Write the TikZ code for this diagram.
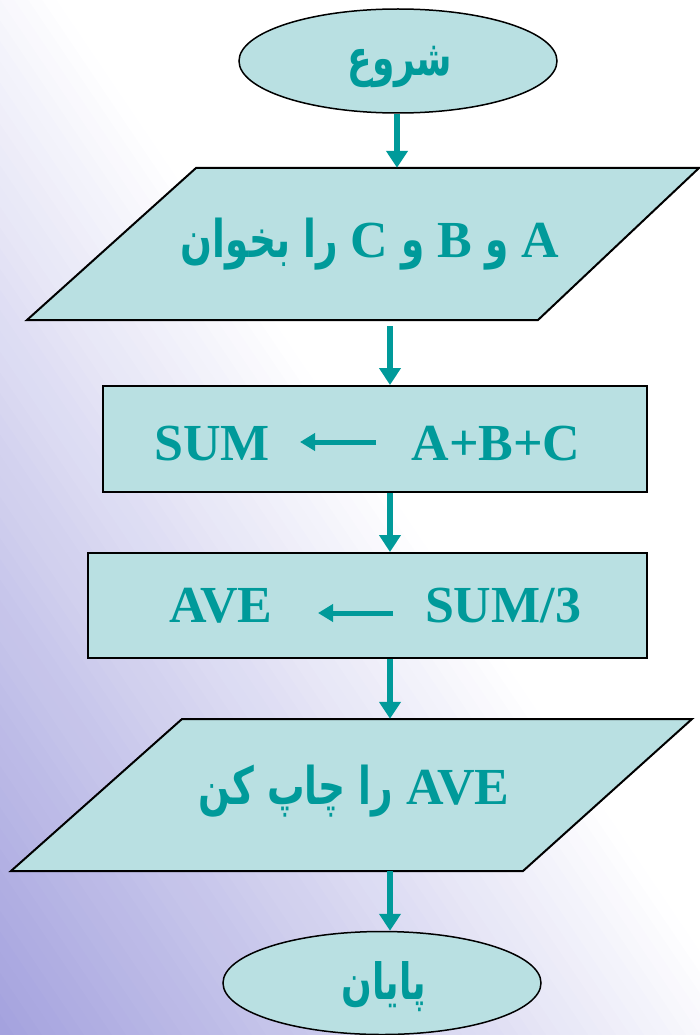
\documentclass[tikz,border=0pt]{standalone}
\usepackage{fontspec}
\setmainfont{Liberation Serif}
\newfontfamily\arabicfont[Script=Arabic, FakeStretch=0.72]{DejaVu Sans}
\TeXXeTstate=1
\usetikzlibrary{shapes.geometric,arrows.meta}
\definecolor{tealtxt}{RGB}{0,154,154}
\definecolor{boxfill}{RGB}{185,224,226}
\definecolor{bgpurple}{RGB}{164,162,222}
\newcommand\artxt[1]{{\arabicfont\beginR #1\endR}}
\tikzset{
  boxshape/.style={draw=black, line width=2pt, fill=boxfill},
  termshape/.style={ellipse, draw=black, line width=1.5pt, fill=boxfill, inner sep=0pt},
  procbox/.style={rectangle, draw=black, line width=2pt, fill=boxfill, inner sep=0pt},
  holder/.style={rectangle, inner sep=0pt},
  lbl/.style={text=tealtxt, font=\fontsize{52}{62}\selectfont\bfseries, inner sep=0pt, anchor=base},
  arlbl/.style={text=tealtxt, font=\fontsize{50}{60}\selectfont\bfseries, inner sep=0pt, anchor=base},
  conn/.style={draw=tealtxt, line width=6pt, -{Triangle[length=17pt,width=21pt]}},
  inarrow/.style={draw=tealtxt, line width=5pt, -{Triangle[length=15pt,width=17pt]}}
}
\begin{document}
\begin{tikzpicture}[x=1pt,y=-1pt]
\useasboundingbox (0,0) rectangle (700,1035);
% background gradient
\begin{scope}
\clip (0,0) rectangle (700,1035);
\fill[white] (0,0) rectangle (700,1035);
\foreach \i in {0,...,59}{
  \pgfmathsetmacro\ua{\i*0.02}
  \pgfmathsetmacro\ub{\ua+0.03}
  \pgfmathtruncatemacro\p{min(100,(\ua+0.01)/1.08*100)}
  \fill[white!\p!bgpurple] ({700*(\ua+1)},2070) -- ({700*(\ua-2)},-1035) -- ({700*(\ub-2)},-1035) -- ({700*(\ub+1)},2070) -- cycle;
}
\end{scope}

\coordinate (ax) at (390,0);
\coordinate (ax1) at (397,0);

% start
\node[termshape, minimum width=318pt, minimum height=104pt] (st) at (398,61) {};
\node[arlbl] (stt) at (400,76) {\artxt{شروع}};

% input parallelogram
\node[holder, minimum width=672pt, minimum height=152pt] (p1) at (363,244) {};
\draw[boxshape] (196,168) -- (699,168) -- (538,320) -- (27,320) -- cycle;
\node[lbl] (p1t) at (370,257) {\artxt{را بخوان}\ C \artxt{و} B \artxt{و} A};

% process 1
\node[procbox, minimum width=544pt, minimum height=106pt] (r1) at (375,439) {};
\node[lbl] (sum1) at (212,460) {SUM};
\node[lbl] (abc) at (496,460) {A+B+C};
\coordinate (a1s) at (376,442);
\coordinate (a1e) at (300,442);
\draw[inarrow] (a1s) -- (a1e);

% process 2
\node[procbox, minimum width=559pt, minimum height=105pt] (r2) at (367.5,605.5) {};
\node[lbl] (ave) at (221,622) {AVE};
\node[lbl] (sum3) at (503,622) {SUM/3};
\coordinate (a2s) at (393,613);
\coordinate (a2e) at (318,613);
\draw[inarrow] (a2s) -- (a2e);

% output parallelogram
\node[holder, minimum width=681pt, minimum height=152pt] (p2) at (351.5,795) {};
\draw[boxshape] (182,719) -- (692,719) -- (523,871) -- (11,871) -- cycle;
\node[lbl] (p2t) at (354,804) {\artxt{را چاپ کن}\ AVE};

% end
\node[termshape, minimum width=318pt, minimum height=103pt] (en) at (382,983) {};
\node[arlbl] (ent) at (384,999) {\artxt{پایان}};

% connectors
\draw[conn] (st.south -| ax1) -- (p1.north -| ax1);
\draw[conn] ([yshift=-6pt]p1.south -| ax) -- (r1.north -| ax);
\draw[conn] (r1.south -| ax) -- (r2.north -| ax);
\draw[conn] (r2.south -| ax) -- (p2.north -| ax);
\draw[conn] (p2.south -| ax) -- (en.north -| ax);
\end{tikzpicture}
\end{document}
